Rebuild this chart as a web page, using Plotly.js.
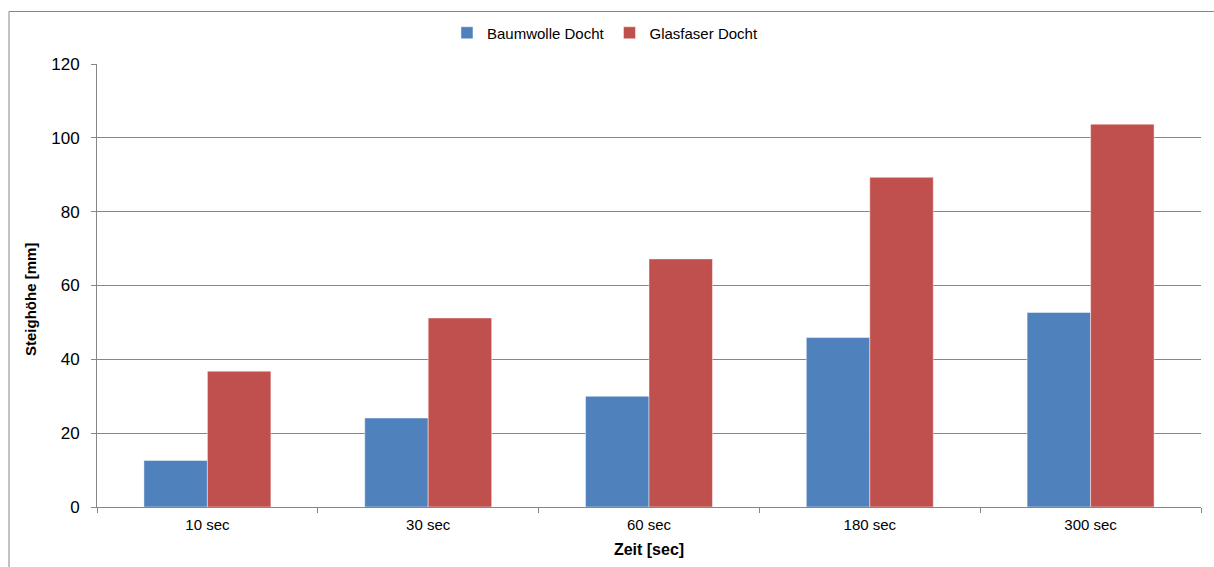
<!DOCTYPE html>
<html>
<head>
<meta charset="utf-8">
<script src="https://cdn.plot.ly/plotly-3.0.1.min.js"></script>
<style>
  html, body { margin: 0; padding: 0; background: #ffffff; overflow: hidden; }
  #chart { width: 1214px; height: 567px; overflow: hidden; }
</style>
</head>
<body>
<div id="chart"></div>
<script>
// Steighöhe two wick materials over time
const categories = ['10 sec', '30 sec', '60 sec', '180 sec', '300 sec'];
const baumwolle = [12.6, 24.1, 30.0, 45.9, 52.7];
const glasfaser = [36.8, 51.2, 67.2, 89.3, 103.7];
const seriesNames = ['Baumwolle Docht', 'Glasfaser Docht'];

const gray = '#868686';
const font = 'Liberation Sans, Arial, sans-serif';

const traces = [
  {
    type: 'bar', name: seriesNames[0], x: categories, y: baumwolle,
    marker: { color: '#4F81BD', line: { color: 'rgba(255,255,255,0.45)', width: 1 } },
    hoverinfo: 'x+y+name'
  },
  {
    type: 'bar', name: seriesNames[1], x: categories, y: glasfaser,
    marker: { color: '#C0504D', line: { color: 'rgba(255,255,255,0.45)', width: 1 } },
    hoverinfo: 'x+y+name'
  }
];

const layout = {
  width: 1214, height: 567,
  margin: { l: 97, r: 13, t: 64, b: 60 },
  paper_bgcolor: '#ffffff', plot_bgcolor: '#ffffff',
  font: { family: font, color: '#000000' },
  barmode: 'group', bargap: 0.425, bargroupgap: 0,
  showlegend: true,
  legend: {
    orientation: 'h', x: 0.317, xanchor: 'left', y: 1.07, yanchor: 'middle',
    font: { size: 15, family: font }, itemclick: false, itemdoubleclick: false,
    traceorder: 'normal', tracegroupgap: 0, itemwidth: 30
  },
  xaxis: {
    type: 'category', tickson: 'boundaries', ticks: 'outside', ticklen: 5,
    tickcolor: gray, showline: true, linecolor: gray, linewidth: 1,
    showgrid: false, tickfont: { size: 15, family: font }, ticklabelstandoff: 4,
    title: { text: '<b>Zeit [sec]</b>', font: { size: 16, family: font }, standoff: 11 }
  },
  yaxis: {
    range: [0, 120], dtick: 20, ticks: 'outside', ticklen: 5, tickcolor: gray,
    showline: true, linecolor: gray, linewidth: 1,
    showgrid: true, gridcolor: gray, gridwidth: 1, zeroline: false,
    tickfont: { size: 17, family: font }, ticklabelstandoff: 8
  },
  annotations: [
    // y axis title, set slightly below the axis midpoint
    {
      xref: 'paper', yref: 'paper', x: -0.0607, y: 0.4695,
      xanchor: 'center', yanchor: 'middle', textangle: -90, showarrow: false,
      text: '<b>Steighöhe [mm]</b>', font: { size: 15, family: font, color: '#000000' }
    }
  ],
  shapes: [
    // chart frame: left and top edges, running to the page's right and bottom edges
    {
      type: 'path', xref: 'paper', yref: 'paper',
      path: 'M -0.0797,-0.14 L -0.0797,1.1185 L 1.012,1.1185',
      line: { color: gray, width: 1 }, layer: 'below'
    }
  ]
};

Plotly.newPlot('chart', traces, layout, { displayModeBar: false, staticPlot: true });
</script>
</body>
</html>
